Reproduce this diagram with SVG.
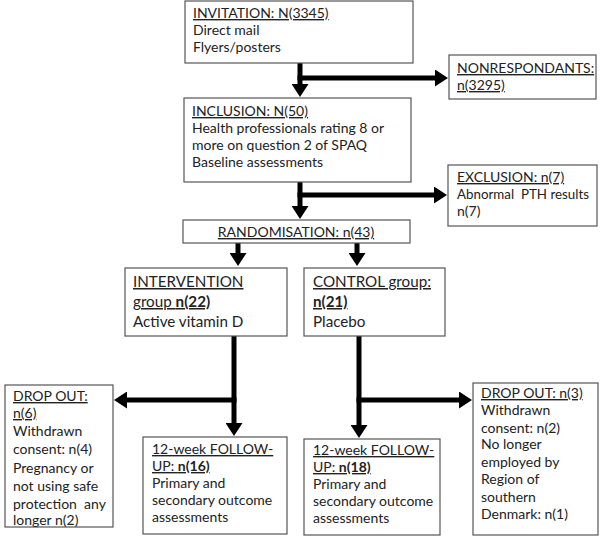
<svg xmlns="http://www.w3.org/2000/svg" width="600" height="539" viewBox="0 0 600 539">
<defs>
<marker id="ah" viewBox="0 0 13 17" refX="3" refY="8.5" markerWidth="13" markerHeight="17" markerUnits="userSpaceOnUse" orient="auto">
<path d="M0,0 L13,8.5 L0,17 z" fill="#000"/>
</marker>
<style>
.box{fill:#fff;stroke:#555;stroke-width:1.2}
.t{font-family:Lato,"Liberation Sans",sans-serif;font-size:14px;fill:#222;white-space:pre}
.tl{font-family:Lato,"Liberation Sans",sans-serif;font-size:15.2px;fill:#222}
.u{text-decoration:underline}
.b{font-weight:bold}
.c{fill:none;stroke:#000;stroke-width:5}
</style>
</defs>
<rect width="600" height="539" fill="#fff"/>
<g id="connectors">
<path class="c" d="M300,63 V87" marker-end="url(#ah)"/>
<path class="c" d="M297.5,78 H438" marker-end="url(#ah)"/>
<path class="c" d="M300,182 V209" marker-end="url(#ah)"/>
<path class="c" d="M297.5,195 H437" marker-end="url(#ah)"/>
<path class="c" d="M238,243 V256" marker-end="url(#ah)"/>
<path class="c" d="M357,243 V256" marker-end="url(#ah)"/>
<path class="c" d="M234,336 V426" marker-end="url(#ah)"/>
<path class="c" d="M236.5,400 H124" marker-end="url(#ah)"/>
<path class="c" d="M359,336 V428" marker-end="url(#ah)"/>
<path class="c" d="M356.5,400 H462" marker-end="url(#ah)"/>
</g>
<g id="invitation">
<rect class="box" x="185" y="1" width="228" height="62"/>
<text class="t" x="193" y="18"><tspan class="u">INVITATION: N(3345)</tspan></text>
<text class="t" x="193" y="35">Direct mail</text>
<text class="t" x="193" y="52">Flyers/posters</text>
</g>
<g id="nonrespondants">
<rect class="box" x="449" y="55" width="147" height="44"/>
<text class="t" x="457" y="73"><tspan class="u">NONRESPONDANTS:</tspan></text>
<text class="t" x="457" y="90"><tspan class="u">n(3295)</tspan></text>
</g>
<g id="inclusion">
<rect class="box" x="184" y="98" width="227" height="84"/>
<text class="t" x="192" y="116"><tspan class="u">INCLUSION: N(50)</tspan></text>
<text class="t" x="192" y="133">Health professionals rating 8 or</text>
<text class="t" x="192" y="150">more on question 2 of SPAQ</text>
<text class="t" x="192" y="167">Baseline assessments</text>
</g>
<g id="exclusion">
<rect class="box" x="448" y="165" width="149" height="61"/>
<text class="t" x="457" y="182"><tspan class="u">EXCLUSION: n(7)</tspan></text>
<text class="t" x="457" y="199" textLength="132" lengthAdjust="spacingAndGlyphs">Abnormal  PTH results</text>
<text class="t" x="457" y="216">n(7)</text>
</g>
<g id="randomisation">
<rect class="box" x="183" y="220" width="227" height="23"/>
<text class="t" x="296" y="237" text-anchor="middle"><tspan class="u">RANDOMISATION: n(43)</tspan></text>
</g>
<g id="intervention">
<rect class="box" x="125" y="268" width="162" height="68"/>
<text class="tl" x="133" y="287"><tspan class="u">INTERVENTION</tspan></text>
<text class="tl" x="133" y="307"><tspan class="u">group <tspan class="b">n(22)</tspan></tspan></text>
<text class="tl" x="133" y="327">Active vitamin D</text>
</g>
<g id="control">
<rect class="box" x="304" y="268" width="141" height="68"/>
<text class="tl" x="313" y="287"><tspan class="u">CONTROL group:</tspan></text>
<text class="tl" x="313" y="307"><tspan class="u b">n(21)</tspan></text>
<text class="tl" x="313" y="327">Placebo</text>
</g>
<g id="dropout-intervention">
<rect class="box" x="5" y="385" width="108" height="142"/>
<text class="t" x="13" y="401"><tspan class="u">DROP OUT:</tspan></text>
<text class="t" x="13" y="418"><tspan class="u">n(6)</tspan></text>
<text class="t" x="13" y="436">Withdrawn</text>
<text class="t" x="13" y="454">consent: n(4)</text>
<text class="t" x="13" y="473">Pregnancy or</text>
<text class="t" x="13" y="491">not using safe</text>
<text class="t" x="13" y="509">protection  any</text>
<text class="t" x="13" y="525">longer n(2)</text>
</g>
<g id="followup-intervention">
<rect class="box" x="143" y="437" width="144" height="97"/>
<text class="t" x="152" y="454"><tspan class="u">12-week FOLLOW-</tspan></text>
<text class="t" x="152" y="471"><tspan class="u">UP: <tspan class="b">n(16)</tspan></tspan></text>
<text class="t" x="152" y="488">Primary and</text>
<text class="t" x="152" y="505">secondary outcome</text>
<text class="t" x="152" y="522">assessments</text>
</g>
<g id="followup-control">
<rect class="box" x="304" y="439" width="136" height="96"/>
<text class="t" x="313" y="455"><tspan class="u">12-week FOLLOW-</tspan></text>
<text class="t" x="313" y="472"><tspan class="u">UP: <tspan class="b">n(18)</tspan></tspan></text>
<text class="t" x="313" y="489">Primary and</text>
<text class="t" x="313" y="506">secondary outcome</text>
<text class="t" x="313" y="523">assessments</text>
</g>
<g id="dropout-control">
<rect class="box" x="473" y="383" width="125" height="152"/>
<text class="t" x="481" y="398"><tspan class="u">DROP OUT: n(3)</tspan></text>
<text class="t" x="481" y="415">Withdrawn</text>
<text class="t" x="481" y="433">consent: n(2)</text>
<text class="t" x="481" y="449">No longer</text>
<text class="t" x="481" y="467">employed by</text>
<text class="t" x="481" y="484">Region of</text>
<text class="t" x="481" y="502">southern</text>
<text class="t" x="481" y="519">Denmark: n(1)</text>
</g>
</svg>
